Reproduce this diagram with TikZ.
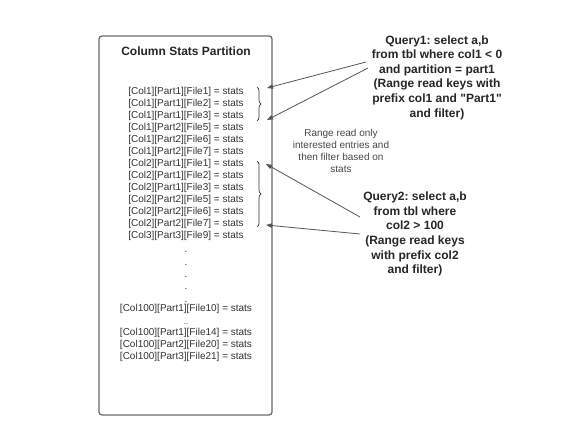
\documentclass[tikz,border=0pt]{standalone}
\usepackage{fontspec}
\setmainfont{Liberation Sans}
\usetikzlibrary{decorations.pathreplacing,arrows.meta}
\definecolor{boxgray}{HTML}{6B6B6B}
\definecolor{txtgray}{HTML}{333333}
\definecolor{arrgray}{HTML}{555555}
\frenchspacing
\begin{document}
\begin{tikzpicture}[x=1pt,y=-1pt,
  entry/.style={font=\fontsize{10}{12}\selectfont,text=txtgray,inner sep=0pt},
  dotmark/.style={font=\fontsize{10}{12}\selectfont,text=txtgray,inner sep=0pt,anchor=base},
  query/.style={font=\bfseries\fontsize{12}{14.6}\selectfont,text=black!85,align=center,inner sep=0pt},
  note/.style={font=\fontsize{10}{12}\selectfont,text=txtgray!90,align=center,inner sep=0pt},
  bracemark/.style={draw=txtgray,line width=0.7pt,decorate,decoration={brace,amplitude=4pt}},
  arrowline/.style={draw=arrgray,line width=0.8pt,-{Triangle[length=6pt,width=4.5pt]}}]
\useasboundingbox (0,0) rectangle (578,433);
\fill[white] (0,0) rectangle (578,433);
\draw[boxgray,line width=1.3pt,rounded corners=3pt] (99,36) rectangle (272,415);
\node[font=\bfseries\fontsize{12}{14}\selectfont,text=black!85] (title) at (186,51) {Column Stats Partition};
\node[entry] (e1) at (186,92) {[Col1][Part1][File1] = stats};
\node[entry] (e2) at (186,104) {[Col1][Part1][File2] = stats};
\node[entry] (e3) at (186,116) {[Col1][Part1][File3] = stats};
\node[entry] (e4) at (186,128) {[Col1][Part2][File5] = stats};
\node[entry] (e5) at (186,140) {[Col1][Part2][File6] = stats};
\node[entry] (e6) at (186,152) {[Col1][Part2][File7] = stats};
\node[entry] (e7) at (186,164) {[Col2][Part1][File1] = stats};
\node[entry] (e8) at (186,176) {[Col2][Part1][File2] = stats};
\node[entry] (e9) at (186,188) {[Col2][Part1][File3] = stats};
\node[entry] (e10) at (186,200) {[Col2][Part2][File5] = stats};
\node[entry] (e11) at (186,212) {[Col2][Part2][File6] = stats};
\node[entry] (e12) at (186,224) {[Col2][Part2][File7] = stats};
\node[entry] (e13) at (186,236) {[Col3][Part3][File9] = stats};
\node[dotmark] (d1) at (186,252) {.};
\node[dotmark] (d2) at (186,265) {.};
\node[dotmark] (d3) at (186,277) {.};
\node[dotmark] (d4) at (186,289) {.};
\node[dotmark] (d5) at (186,302) {.};
\node[entry] (e14) at (186,309) {[Col100][Part1][File10] = stats};
\node[dotmark,font=\fontsize{8}{9}\selectfont] (d6) at (186,324) {..};
\node[entry] (e15) at (186,333) {[Col100][Part1][File14] = stats};
\node[entry] (e16) at (186,345) {[Col100][Part2][File20] = stats};
\node[entry] (e17) at (186,357) {[Col100][Part3][File21] = stats};
% braces
\coordinate (b1t) at (257,87);
\coordinate (b1b) at (257,121);
\coordinate (b2t) at (257,161);
\coordinate (b2b) at (257,227);
\draw[bracemark] (b1t) -- (b1b);
\draw[bracemark] (b2t) -- (b2b);
% texts
\node[query] (q1) at (437,77.5) {Query1: select a,b\\from tbl where col1 < 0\\and partition = part1\\(Range read keys with\\prefix col1 and \textquotedbl Part1\textquotedbl\\and filter)};
\node[query] (q2) at (415,234) {Query2: select a,b\\from tbl where\\col2 > 100\\(Range read keys\\with prefix col2\\and filter)};
\node[note] (n1) at (341,151) {Range read only\\interested entries and\\then filter based on\\stats};
% arrows
\coordinate (a1s) at (366,62);
\coordinate (a2s) at (368,68);
\coordinate (a3s) at (360,217);
\coordinate (a4s) at (360,234);
\coordinate (a1e) at (267,88);
\coordinate (a2e) at (267,120);
\coordinate (a3e) at (266,164);
\coordinate (a4e) at (266,225);
\draw[arrowline] (a1s) -- (a1e);
\draw[arrowline] (a2s) -- (a2e);
\draw[arrowline] (a3s) -- (a3e);
\draw[arrowline] (a4s) -- (a4e);
\end{tikzpicture}
\end{document}
